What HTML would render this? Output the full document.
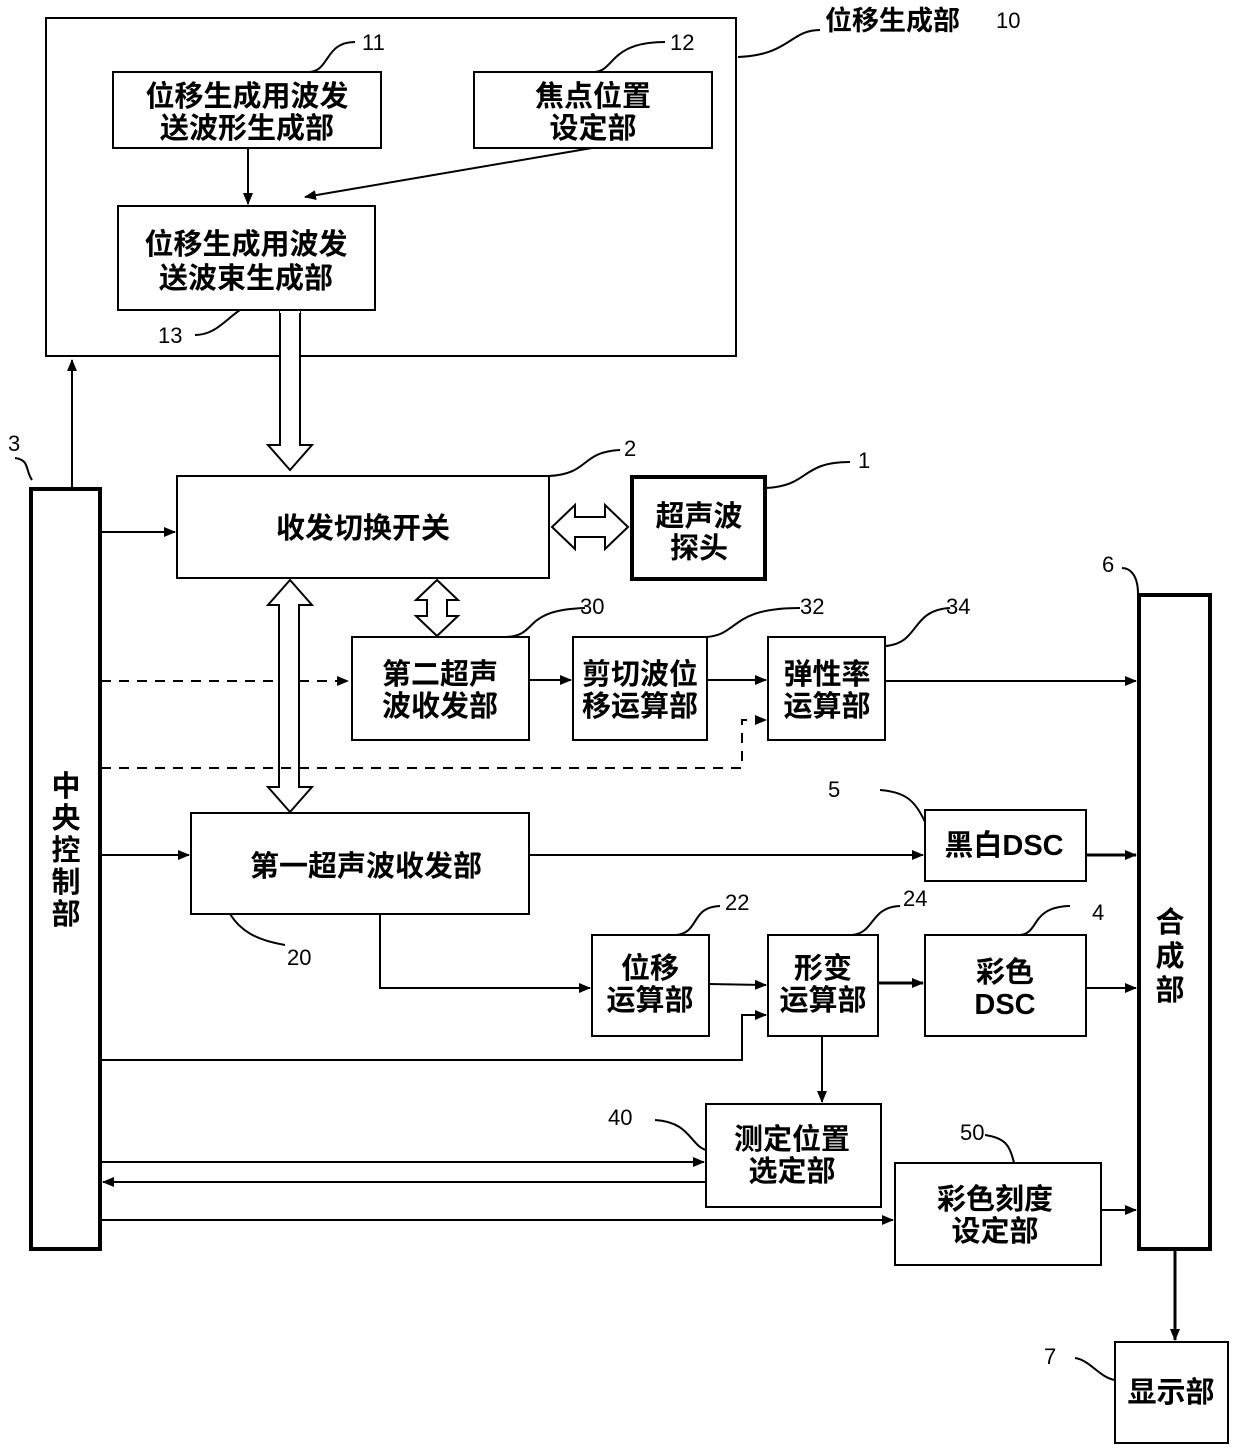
<!DOCTYPE html>
<html><head><meta charset="utf-8"><style>
html,body{margin:0;padding:0;background:#fff;}
svg{display:block;}
text{font-family:"Liberation Sans","Noto Sans CJK SC",sans-serif;fill:#000;}
.b{font-size:29px;font-weight:bold;text-anchor:middle;}
.n{font-size:22px;}
</style></head><body>
<svg width="1240" height="1448" viewBox="0 0 1240 1448" xmlns="http://www.w3.org/2000/svg">
<defs>
<marker id="a" markerWidth="12" markerHeight="10" refX="11" refY="5" orient="auto" markerUnits="userSpaceOnUse"><path d="M0,0 L12,5 L0,10 Z" fill="#000"/></marker>
</defs>
<g fill="none" stroke="#000" stroke-width="2">
<!-- box 10 -->
<rect x="46" y="18" width="690" height="338"/>
<rect x="113" y="72" width="268" height="76"/>
<rect x="474" y="72" width="238" height="76"/>
<rect x="118" y="206" width="257" height="104"/>
<line x1="248" y1="148" x2="248" y2="204" marker-end="url(#a)"/>
<line x1="592" y1="148" x2="305" y2="197" marker-end="url(#a)"/>
<!-- leaders -->
<path d="M738,57 C790,55 790,30 820,30"/>
<path d="M310,72 C330,70 325,42 355,42"/>
<path d="M595,72 C615,70 610,42 665,42"/>
<path d="M240,310 C225,320 215,335 195,335"/>
<path d="M32,480 C25,470 30,460 15,458"/>
<path d="M549,476 C590,474 580,452 620,450"/>
<path d="M766,488 C810,486 800,462 850,462"/>
<path d="M1138,594 C1138,575 1130,568 1122,568"/>
<path d="M505,637 C540,636 520,610 585,608"/>
<path d="M707,637 C740,634 730,608 800,608"/>
<path d="M885,646 C920,644 910,610 950,608"/>
<path d="M925,822 C915,800 905,792 880,790"/>
<path d="M230,914 C240,930 255,940 285,945"/>
<path d="M676,935 C700,933 690,907 720,906"/>
<path d="M852,935 C875,933 870,907 900,906"/>
<path d="M1020,935 C1040,933 1030,907 1070,906"/>
<path d="M706,1150 C690,1145 690,1122 655,1120"/>
<path d="M1014,1163 C1010,1145 1005,1138 985,1135"/>
<path d="M1115,1380 C1100,1378 1090,1360 1075,1358"/>
<!-- central 3 -->
<rect x="31" y="489" width="69" height="760" stroke-width="4"/>
<line x1="72" y1="487" x2="72" y2="360" marker-end="url(#a)"/>
<!-- box 2, 1 -->
<rect x="177" y="476" width="372" height="102"/>
<rect x="632" y="477" width="133" height="102" stroke-width="4"/>
<line x1="101" y1="532" x2="175" y2="532" marker-end="url(#a)"/>
<!-- 30,32,34 -->
<rect x="352" y="637" width="177" height="103"/>
<rect x="573" y="637" width="134" height="103"/>
<rect x="768" y="637" width="117" height="103"/>
<line x1="101" y1="681" x2="348" y2="681" stroke-dasharray="10,8" marker-end="url(#a)"/>
<line x1="529" y1="680" x2="571" y2="680" marker-end="url(#a)"/>
<line x1="707" y1="680" x2="766" y2="680" marker-end="url(#a)"/>
<line x1="885" y1="681" x2="1136" y2="681" marker-end="url(#a)"/>
<path d="M101,768 H742 V720 H766" stroke-dasharray="10,8" marker-end="url(#a)"/>
<!-- 20, 5 -->
<rect x="191" y="813" width="338" height="101"/>
<rect x="925" y="810" width="161" height="71"/>
<line x1="101" y1="855" x2="189" y2="855" marker-end="url(#a)"/>
<line x1="529" y1="855" x2="923" y2="855" marker-end="url(#a)"/>
<line x1="1086" y1="855" x2="1136" y2="855" stroke-width="3" marker-end="url(#a)"/>
<!-- 6 -->
<rect x="1139" y="595" width="71" height="654" stroke-width="4"/>
<!-- 22,24,4 -->
<rect x="592" y="935" width="117" height="101"/>
<rect x="768" y="935" width="110" height="101"/>
<rect x="925" y="935" width="161" height="101"/>
<path d="M380,914 V988 H590" marker-end="url(#a)"/>
<line x1="709" y1="984" x2="766" y2="985" marker-end="url(#a)"/>
<line x1="878" y1="983" x2="923" y2="983" stroke-width="3" marker-end="url(#a)"/>
<line x1="1086" y1="988" x2="1136" y2="988" marker-end="url(#a)"/>
<path d="M101,1060 H742 V1015 H766" marker-end="url(#a)"/>
<line x1="822" y1="1036" x2="822" y2="1102" marker-end="url(#a)"/>
<!-- 40,50 -->
<rect x="706" y="1104" width="175" height="103"/>
<rect x="895" y="1163" width="206" height="102"/>
<line x1="101" y1="1162" x2="704" y2="1162" marker-end="url(#a)"/>
<line x1="706" y1="1182" x2="103" y2="1182" marker-end="url(#a)"/>
<line x1="101" y1="1220" x2="893" y2="1220" marker-end="url(#a)"/>
<line x1="1101" y1="1210" x2="1136" y2="1210" marker-end="url(#a)"/>
<line x1="1175" y1="1251" x2="1175" y2="1340" stroke-width="3" marker-end="url(#a)"/>
<rect x="1115" y="1342" width="113" height="101"/>
</g>
<!-- hollow double arrows -->
<g fill="#fff" stroke="#000" stroke-width="2">
<polygon points="280,312 300,312 300,445 312,445 290,470 268,445 280,445"/>
<line x1="280" y1="312" x2="300" y2="312" stroke="#fff"/>
<polygon points="290,580 312,605 299,605 299,787 312,787 290,812 268,787 279,787 279,605 268,605"/>
<polygon points="437,580 458,600 447,600 447,616 458,616 437,636 416,616 427,616 427,600 416,600"/>
<polygon points="552,527 575,505 575,517 605,517 605,505 628,527 605,549 605,537 575,537 575,549"/>
</g>
<g stroke="#000" stroke-width="2" stroke-dasharray="10,8"><line x1="101" y1="768" x2="742" y2="768"/></g>
<!-- texts -->
<text class="b" x="247" y="106">位移生成用波发</text>
<text class="b" x="247" y="138">送波形生成部</text>
<text class="b" x="593" y="106">焦点位置</text>
<text class="b" x="593" y="138">设定部</text>
<text class="b" x="246" y="254">位移生成用波发</text>
<text class="b" x="246" y="288">送波束生成部</text>
<text class="b" x="363" y="538">收发切换开关</text>
<text class="b" x="699" y="526">超声波</text>
<text class="b" x="699" y="558">探头</text>
<text class="b" x="440" y="684">第二超声</text>
<text class="b" x="440" y="716">波收发部</text>
<text class="b" x="640" y="684">剪切波位</text>
<text class="b" x="640" y="716">移运算部</text>
<text class="b" x="827" y="684">弹性率</text>
<text class="b" x="827" y="716">运算部</text>
<text class="b" x="366" y="876">第一超声波收发部</text>
<text class="b" x="1004" y="855">黑白DSC</text>
<text class="b" x="650" y="978">位移</text>
<text class="b" x="650" y="1010">运算部</text>
<text class="b" x="823" y="978">形变</text>
<text class="b" x="823" y="1010">运算部</text>
<text class="b" x="1005" y="982">彩色</text>
<text class="b" x="1005" y="1014">DSC</text>
<text class="b" x="792" y="1149">测定位置</text>
<text class="b" x="792" y="1181">选定部</text>
<text class="b" x="995" y="1209">彩色刻度</text>
<text class="b" x="995" y="1241">设定部</text>
<text class="b" x="1171" y="1402">显示部</text>
<text class="b" x="66" y="796">中</text>
<text class="b" x="66" y="828">央</text>
<text class="b" x="66" y="860">控</text>
<text class="b" x="66" y="892">制</text>
<text class="b" x="66" y="924">部</text>
<text class="b" x="1170" y="932">合</text>
<text class="b" x="1170" y="966">成</text>
<text class="b" x="1170" y="1000">部</text>
<text x="825" y="30" style="font-size:27px;font-weight:bold">位移生成部</text>
<text class="n" x="996" y="28">10</text>
<text class="n" x="362" y="50">11</text>
<text class="n" x="670" y="50">12</text>
<text class="n" x="158" y="343">13</text>
<text class="n" x="8" y="451">3</text>
<text class="n" x="624" y="456">2</text>
<text class="n" x="858" y="468">1</text>
<text class="n" x="1102" y="572">6</text>
<text class="n" x="580" y="614">30</text>
<text class="n" x="800" y="614">32</text>
<text class="n" x="946" y="614">34</text>
<text class="n" x="828" y="797">5</text>
<text class="n" x="287" y="965">20</text>
<text class="n" x="725" y="910">22</text>
<text class="n" x="903" y="906">24</text>
<text class="n" x="1092" y="920">4</text>
<text class="n" x="608" y="1125">40</text>
<text class="n" x="960" y="1140">50</text>
<text class="n" x="1044" y="1364">7</text>
</svg>
</body></html>
